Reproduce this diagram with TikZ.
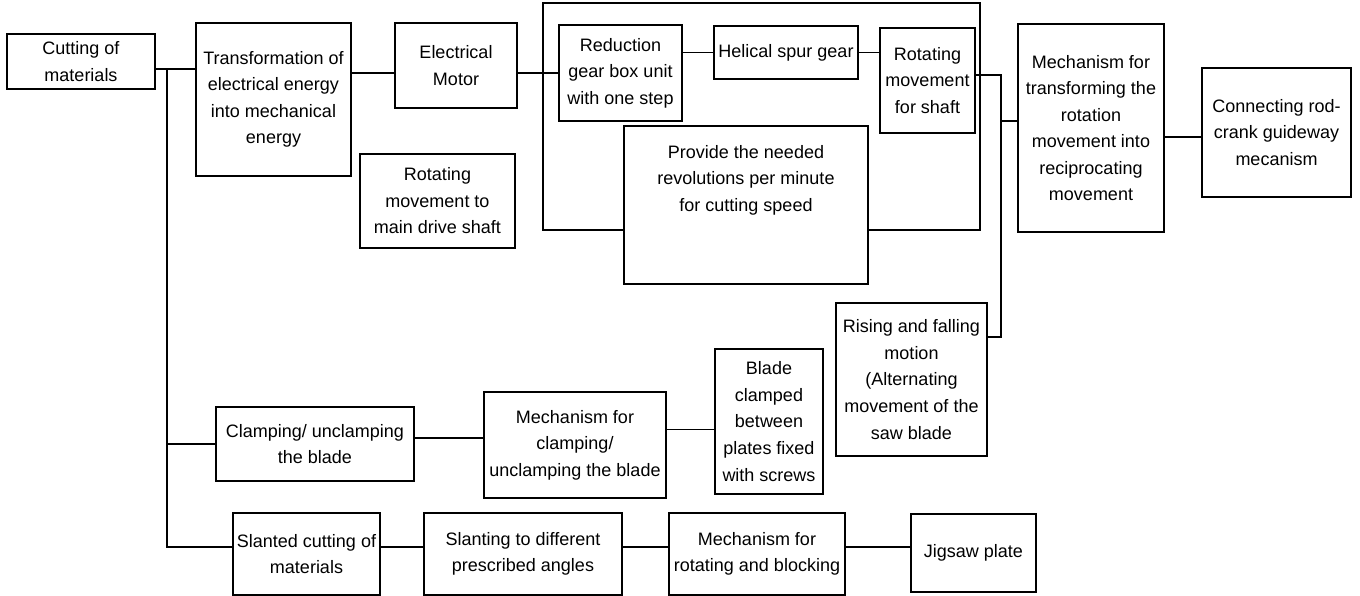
\documentclass[tikz,border=0pt]{standalone}
\usepackage{fontspec}
\setmainfont{Liberation Sans}

\tikzset{
  blk/.style={draw, fill=white, line width=1.4pt, align=center, inner sep=0pt,
    font=\fontsize{13.5}{19.9}\selectfont},
  wh/.style 2 args={minimum width=#1*0.75pt, minimum height=#2*0.75pt},
  txt/.style={align=center, inner sep=0pt, font=\fontsize{13.5}{19.9}\selectfont},
  lnk/.style={line width=1.4pt}
}

\begin{document}
\begin{tikzpicture}[x=0.75pt, y=-0.75pt]
    \useasboundingbox (0,0) rectangle (1360,596);

    % gear box group frame
    \node[blk, fill=none, wh={437}{227}] (unit) at (761.5,116.5) {};

    % top row
    \node[blk, wh={148}{55}]  (cut)      at (81,61.5)    {Cutting of\\materials};
    \node[blk, wh={155}{153}] (trans)    at (273.5,99.5) {Transformation of\\electrical energy\\into mechanical\\energy};
    \node[blk, wh={122}{85}]  (motor)    at (456,65.5)   {Electrical\\Motor};
    \node[blk, wh={155}{94}]  (rotdrive) at (437.5,201)  {Rotating\\movement to\\main drive shaft};
    \node[blk, wh={123}{96}]  (reduc)    at (620.5,73)   {Reduction\\gear box unit\\with one step};
    \node[blk, wh={144}{53}]  (helical)  at (786,52.5)   {Helical spur gear};
    \node[blk, wh={95}{105}]  (rotshaft) at (927.5,80.5) {Rotating\\movement\\for shaft};
    \node[blk, wh={244}{158}] (prov)     at (746,205)    {};
    \node[txt] (provtxt) at ([yshift=18.75pt]prov.center) {Provide the needed\\revolutions per minute\\for cutting speed};
    \node[blk, wh={146}{208}] (mechtr)   at (1091,128)   {Mechanism for\\transforming the\\rotation\\movement into\\reciprocating\\movement};
    \node[blk, wh={149}{129}] (conrod)   at (1276.5,132.5) {Connecting rod-\\crank guideway\\mecanism};
    \node[blk, wh={151}{153}] (rising)   at (911.5,379.5) {Rising and falling\\motion\\(Alternating\\movement of the\\saw blade};

    % clamping row
    \node[blk, wh={198}{74}]  (clamp)    at (315,444)    {Clamping/ unclamping\\the blade};
    \node[blk, wh={182}{106}] (mechcl)   at (575,445)    {Mechanism for\\clamping/\\unclamping the blade};
    \node[blk, wh={108}{145}] (blade)    at (769,421.5)  {Blade\\clamped\\between\\plates fixed\\with screws};

    % slanting row
    \node[blk, wh={147}{82}]  (slant)    at (306.5,554)  {Slanted cutting of\\materials};
    \node[blk, wh={198}{82}]  (slanting) at (523,554)    {Slanting to different\\prescribed angles};
    \node[blk, wh={176}{82}]  (mechrot)  at (757,554)    {Mechanism for\\rotating and blocking};
    \node[blk, wh={125}{78}]  (jigsaw)   at (973.5,553)  {Jigsaw plate};

    % junctions
    \coordinate (jc) at (167,69);
    \coordinate (jb) at (167,547);
    \coordinate (jr) at (1001,75);
    \coordinate (jt) at (1001,121);
    \coordinate (jf) at (1001,337);

    % links
    \draw[lnk] (cut.east |- jc) -- (trans.west |- jc);
    \draw[lnk] (jc) -- (jb) -- (slant.west |- jb);
    \draw[lnk] (jc |- clamp.west) -- (clamp.west);
    \draw[lnk] (trans.east |- reduc.west) -- (motor.west |- reduc.west);
    \draw[lnk] (motor.east |- reduc.west) -- (reduc.west);
    \draw[lnk] (reduc.east |- helical.west) -- (helical.west);
    \draw[lnk] (helical.east) -- (rotshaft.west |- helical.east);
    \draw[lnk] (rotshaft.east |- jr) -- (jr) -- (jf) -- (rising.east |- jf);
    \draw[lnk] (jt) -- (mechtr.west |- jt);
    \draw[lnk] ([yshift=-3.4pt]conrod.west -| mechtr.east) -- ([yshift=-3.4pt]conrod.west);
    \draw[lnk] ([yshift=4.5pt]clamp.east) -- ([yshift=4.5pt]clamp.east -| mechcl.west);
    \draw[lnk] ([yshift=-6pt]blade.west -| mechcl.east) -- ([yshift=-6pt]blade.west);
    \draw[lnk] ([yshift=5pt]slant.east) -- ([yshift=5pt]slant.east -| slanting.west);
    \draw[lnk] ([yshift=5pt]slanting.east) -- ([yshift=5pt]slanting.east -| mechrot.west);
    \draw[lnk] ([yshift=5pt]mechrot.east) -- ([yshift=5pt]mechrot.east -| jigsaw.west);
\end{tikzpicture}
\end{document}
